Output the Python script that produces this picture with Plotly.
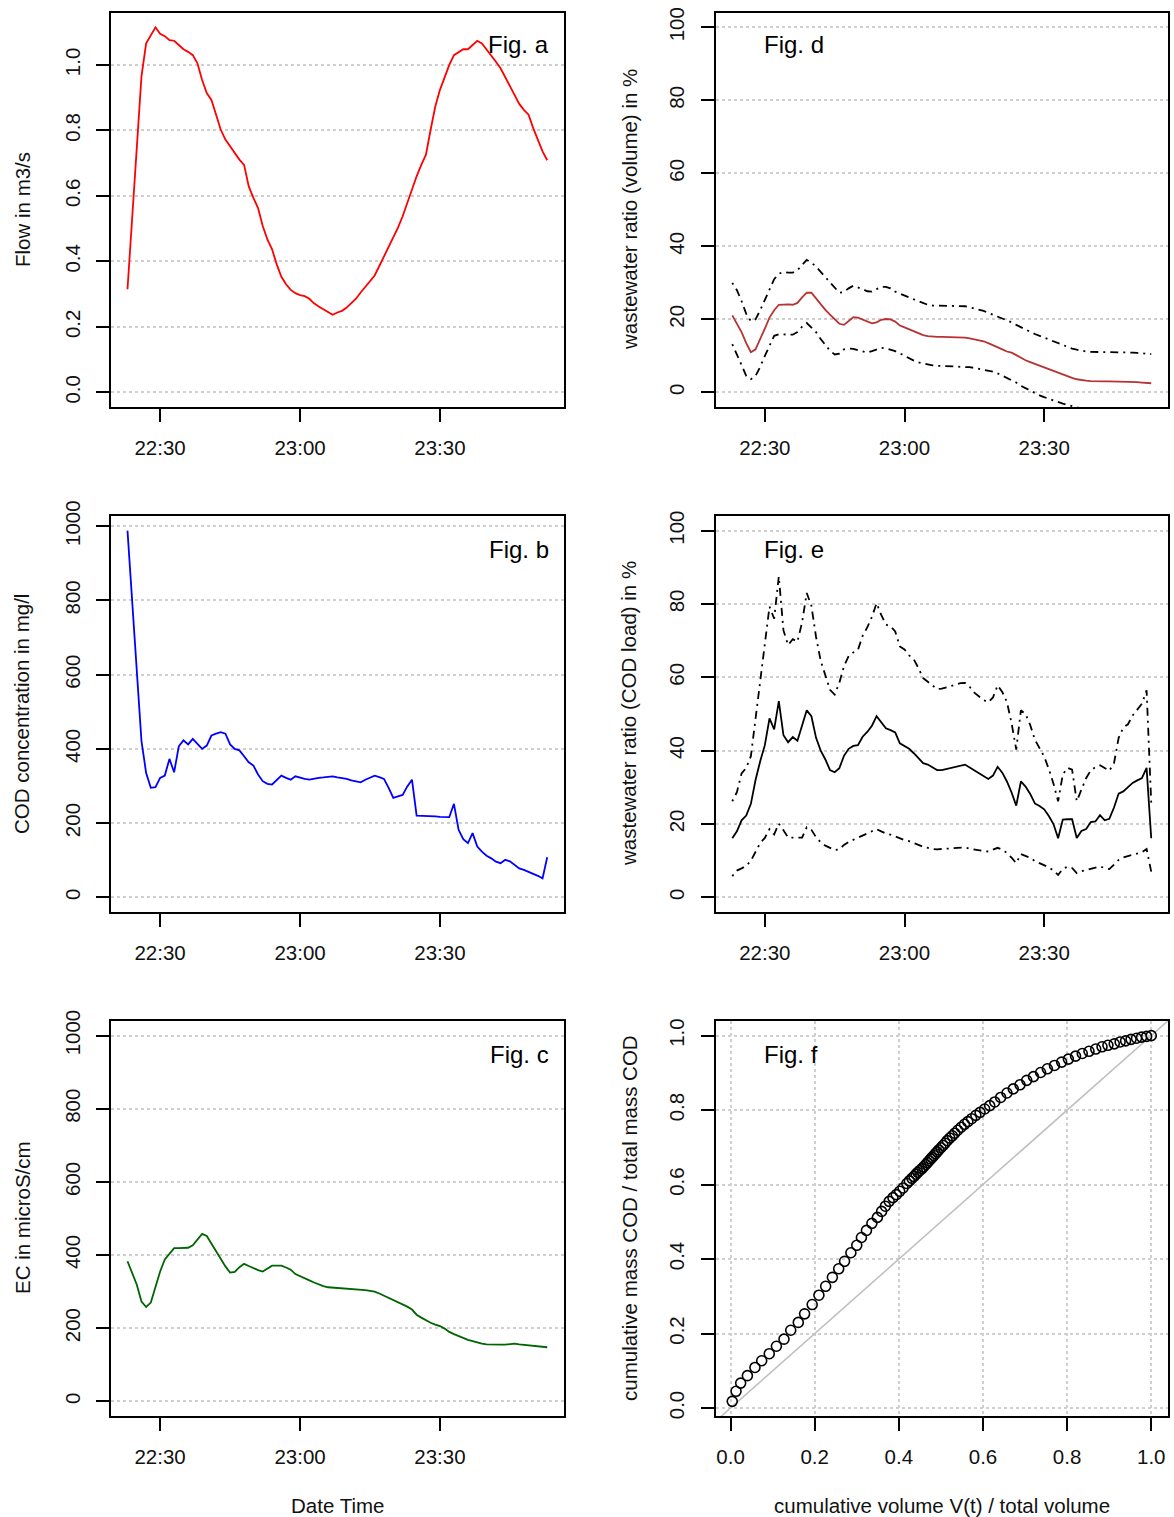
import plotly.graph_objects as go
import pandas as pd

# ---------------- data ----------------
times = pd.date_range("2020-01-01 22:23:00", periods=91, freq="min")

flow = [0.315, 0.54, 0.76, 0.965, 1.066, 1.09, 1.115, 1.095, 1.088, 1.076,
        1.074, 1.061, 1.048, 1.04, 1.03, 1.005, 0.954, 0.914, 0.893, 0.848,
        0.802, 0.772, 0.751, 0.729, 0.711, 0.695, 0.629, 0.594, 0.563, 0.508,
        0.467, 0.437, 0.391, 0.353, 0.330, 0.313, 0.303, 0.297, 0.294, 0.286,
        0.272, 0.262, 0.254, 0.244, 0.237, 0.244, 0.249, 0.259, 0.274, 0.286,
        0.305, 0.323, 0.340, 0.357, 0.386, 0.416, 0.447, 0.472, 0.503, 0.538,
        0.579, 0.619, 0.660, 0.695, 0.726, 0.802, 0.873, 0.924, 0.965, 1.0,
        1.03, 1.04, 1.048, 1.048, 1.061, 1.074, 1.066, 1.048, 1.03, 1.01,
        0.99, 0.962, 0.939, 0.909, 0.881, 0.863, 0.848, 0.807, 0.772, 0.736, 0.709]

cod = [988, 799, 610, 421, 335, 295, 297, 322, 328, 373,
       337, 407, 423, 412, 427, 412, 400, 409, 436, 441,
       445, 441, 412, 400, 396, 380, 364, 355, 331, 313,
       306, 304, 317, 328, 322, 317, 326, 322, 319, 317,
       320, 322, 323, 324, 326, 323, 322, 319, 315, 312,
       310, 317, 322, 328, 324, 319, 295, 268, 272, 276,
       299, 317, 220, 220, 219, 218, 218, 217, 216, 216,
       252, 182, 157, 146, 173, 137, 123, 112, 105, 96,
       92, 101, 97, 87, 78, 74, 69, 63, 58, 51, 108]

ec = [383, 352, 319, 273, 258, 270, 311, 355, 388, 404,
      419, 419, 419, 420, 427, 444, 458, 452, 431, 408,
      387, 369, 352, 354, 367, 376, 370, 364, 359, 355,
      363, 371, 371, 371, 366, 360, 348, 343, 337, 331,
      325, 319, 315, 312, 311, 311, 310, 310, 309, 307,
      306, 304, 302, 300, 295, 289, 283, 279, 272, 266,
      259, 251, 237, 229, 221, 215, 210, 206, 199, 190,
      184, 178, 172, 168, 165, 161, 158, 156, 155, 155,
      155, 155, 156, 158, 156, 155, 153, 151, 150, 149, 148]

vol_mid = [21.1, 18.8, 16.5, 13.5, 11.0, 11.8, 14.5, 17.5, 20.5, 22.5,
           24.0, 24.1, 24.1, 24.0, 24.5, 26.0, 27.3, 27.3, 25.7, 24.0,
           22.6, 21.3, 20.0, 18.8, 18.5, 19.5, 20.6, 20.5, 19.9, 19.4,
           18.9, 19.2, 19.9, 20.1, 20.0, 19.4, 18.3, 17.8, 17.3, 16.8,
           16.1, 15.7, 15.4, 15.2, 15.2, 15.2, 15.2, 15.2, 15.1, 15.0,
           15.0, 14.8, 14.6, 14.4, 14.0, 13.5, 13.0, 12.4, 11.8, 11.2,
           10.9, 10.2, 9.4, 8.8, 8.3, 7.8, 7.4, 7.0, 6.4, 5.9,
           5.4, 4.9, 4.5, 4.0, 3.6, 3.3, 3.2, 3.1, 3.0, 3.0,
           3.0, 3.0, 3.0, 3.0, 2.9, 2.9, 2.9, 2.8, 2.7, 2.5, 2.5]

vol_up = [30.0, 28.0, 25.0, 21.5, 19.5, 20.0, 22.5, 25.5, 28.5, 31.0,
          32.5, 33.0, 32.8, 32.8, 33.5, 35.0, 36.3, 35.5, 34.5, 33.0,
          31.5, 30.0, 28.5, 27.3, 27.5, 28.5, 29.2, 28.8, 28.3, 27.7,
          27.6, 28.3, 28.9, 28.9, 28.5, 27.6, 27.0, 26.5, 26.0, 25.5,
          25.0, 24.3, 24.0, 23.8, 23.8, 23.8, 23.8, 23.8, 23.7, 23.6,
          23.6, 23.3, 23.0, 22.7, 22.3, 21.8, 21.3, 20.8, 20.3, 19.8,
          19.2, 18.5, 17.8, 17.2, 16.6, 16.0, 15.5, 15.0, 14.5, 14.0,
          13.4, 12.9, 12.4, 12.0, 11.7, 11.4, 11.2, 11.1, 11.1, 11.1,
          11.1, 11.1, 11.1, 11.1, 11.0, 11.0, 10.9, 10.8, 10.7, 10.6, 10.5]

vol_lo = [13.2, 10.5, 7.5, 4.5, 3.6, 4.5, 7.0, 10.0, 13.0, 15.5,
          15.9, 15.9, 15.7, 15.8, 16.5, 18.0, 19.0, 17.8, 16.5, 14.6,
          13.0, 11.4, 10.4, 10.6, 11.8, 12.0, 11.9, 11.6, 11.2, 10.9,
          11.3, 11.8, 12.2, 12.1, 11.8, 11.3, 10.7, 10.0, 9.4, 8.7,
          8.2, 7.9, 7.6, 7.4, 7.3, 7.3, 7.3, 7.3, 7.1, 7.0,
          7.0, 6.9, 6.7, 6.5, 6.3, 6.0, 5.7, 5.2, 4.6, 4.1,
          3.5, 2.7, 1.8, 1.1, 0.4, -0.3, -0.8, -1.3, -1.8, -2.2,
          -2.7, -3.1, -3.4, -3.8, -4.2, -4.5, -4.8, -5.0, -5.1, -5.2,
          -5.2, -5.2, -5.3, -5.3, -5.3, -5.4, -5.4, -5.4, -5.5, -5.5, -5.5]

load_mid = [16.1, 18.0, 21.0, 22.3, 25.5, 32.0, 37.1, 41.5, 48.8, 45.8,
            53.5, 44.2, 42.3, 43.7, 42.7, 46.7, 51.0, 49.4, 43.5, 40.0,
            37.6, 34.7, 34.1, 35.2, 38.6, 40.5, 41.3, 41.5, 43.8, 45.1,
            46.8, 49.4, 47.8, 46.1, 45.6, 45.0, 42.0, 41.2, 40.5, 39.3,
            37.8, 36.6, 36.2, 35.5, 34.7, 34.7, 35.0, 35.2, 35.5, 35.8,
            36.2, 35.4, 34.6, 33.7, 32.9, 32.3, 33.2, 35.6, 34.0, 31.6,
            28.6, 25.0, 31.6, 30.2, 28.2, 25.6, 24.9, 24.0, 22.2, 20.0,
            16.1, 21.2, 21.3, 21.3, 16.2, 18.1, 18.6, 20.5, 20.7, 22.4,
            21.0, 21.4, 24.5, 28.3, 28.9, 30.1, 31.2, 31.9, 32.5, 35.3, 16.1]

load_up = [26.2, 28.7, 33.8, 35.3, 38.5, 49.0, 58.8, 69.0, 79.3, 76.0,
           87.5, 72.8, 68.8, 70.4, 69.7, 75.0, 83.0, 79.5, 71.0, 64.5,
           60.5, 56.6, 55.3, 58.5, 63.0, 65.8, 66.8, 67.5, 71.3, 73.6,
           76.5, 80.2, 77.0, 74.4, 73.9, 72.5, 68.4, 67.6, 66.0, 64.9,
           62.5, 59.8, 58.8, 57.7, 56.8, 56.9, 57.3, 57.8, 58.2, 58.4,
           58.5, 57.4, 55.8, 54.8, 53.8, 53.2, 54.5, 57.8, 56.0, 53.3,
           47.5, 40.3, 51.0, 50.0, 47.0, 43.0, 40.5, 38.4, 35.0, 31.0,
           26.2, 33.5, 35.3, 34.8, 26.2, 29.4, 32.5, 34.6, 35.5, 36.0,
           35.2, 34.5, 36.6, 43.5, 46.3, 47.2, 49.6, 51.1, 52.8, 56.5, 25.7]

load_lo = [5.8, 7.3, 7.9, 8.6, 10.0, 12.5, 14.8, 16.2, 18.6, 17.2,
           20.1, 18.3, 16.3, 16.3, 16.4, 16.3, 19.1, 18.4, 16.4, 15.0,
           14.1, 13.5, 12.9, 13.1, 14.3, 15.1, 15.7, 16.3, 16.9, 17.4,
           17.9, 18.6, 18.0, 17.4, 17.1, 16.6, 15.9, 15.6, 15.3, 14.9,
           14.3, 13.8, 13.4, 13.2, 13.1, 13.2, 13.3, 13.4, 13.5, 13.6,
           13.6, 13.3, 13.0, 12.8, 12.6, 12.5, 12.9, 13.5, 13.0, 12.1,
           10.8, 9.3, 11.8, 11.3, 10.8, 9.9, 9.3, 8.7, 8.2, 7.3,
           6.1, 7.8, 8.3, 8.0, 6.6, 7.1, 7.4, 7.8, 8.2, 8.4,
           8.0, 7.7, 8.9, 10.2, 10.9, 11.3, 11.6, 12.0, 12.3, 13.2, 7.0]

cum_vol = [0.004, 0.013, 0.024, 0.040, 0.058, 0.074, 0.092, 0.109, 0.127, 0.143,
           0.161, 0.176, 0.194, 0.210, 0.226, 0.242, 0.257, 0.271, 0.286, 0.300,
           0.311, 0.323, 0.336, 0.349, 0.359, 0.368, 0.377, 0.386, 0.394, 0.402,
           0.410, 0.419, 0.425, 0.431, 0.436, 0.441, 0.445, 0.450, 0.455, 0.459,
           0.464, 0.468, 0.472, 0.476, 0.479, 0.483, 0.487, 0.491, 0.495, 0.500,
           0.505, 0.510, 0.515, 0.521, 0.527, 0.533, 0.540, 0.548, 0.556, 0.564,
           0.573, 0.583, 0.593, 0.604, 0.616, 0.628, 0.642, 0.657, 0.672, 0.688,
           0.704, 0.720, 0.737, 0.753, 0.770, 0.787, 0.803, 0.820, 0.836, 0.852,
           0.868, 0.883, 0.897, 0.912, 0.926, 0.939, 0.952, 0.965, 0.977, 0.989, 1.000]

cum_mass = [0.018, 0.045, 0.067, 0.087, 0.109, 0.127, 0.146, 0.166, 0.185, 0.209,
            0.230, 0.253, 0.278, 0.303, 0.327, 0.351, 0.374, 0.394, 0.417, 0.437,
            0.458, 0.477, 0.496, 0.512, 0.528, 0.542, 0.555, 0.565, 0.573, 0.582,
            0.591, 0.603, 0.610, 0.617, 0.622, 0.628, 0.633, 0.638, 0.643, 0.648,
            0.654, 0.659, 0.664, 0.669, 0.673, 0.678, 0.683, 0.688, 0.693, 0.699,
            0.705, 0.711, 0.718, 0.725, 0.731, 0.738, 0.746, 0.754, 0.762, 0.769,
            0.777, 0.786, 0.794, 0.803, 0.812, 0.822, 0.834, 0.846, 0.857, 0.868,
            0.880, 0.890, 0.901, 0.911, 0.920, 0.929, 0.937, 0.945, 0.952, 0.958,
            0.964, 0.970, 0.974, 0.978, 0.983, 0.986, 0.990, 0.993, 0.996, 0.998, 1.000]

diag_ref = [-0.1, 1.1]

time_tickvals = ["2020-01-01 22:30", "2020-01-01 23:00", "2020-01-01 23:30"]
time_ticktext = ["22:30", "23:00", "23:30"]
time_range = ["2020-01-01 22:19:24", "2020-01-01 23:56:36"]

ticks_unit = [0, 0.2, 0.4, 0.6, 0.8, 1.0]
ticks_unit_txt = ["0.0", "0.2", "0.4", "0.6", "0.8", "1.0"]
ticks_1000 = [0, 200, 400, 600, 800, 1000]
ticks_100 = [0, 20, 40, 60, 80, 100]

fig_labels = ["Fig. a", "Fig. b", "Fig. c", "Fig. d", "Fig. e", "Fig. f"]

# ---------------- layout geometry ----------------
W, H = 1174, 1517
FONT = "Liberation Sans, Arial, Helvetica, sans-serif"
TICKFS = 20.5
TITLEFS = 20.5


def fx(p):
    return p / W


def fy(p):
    return 1 - p / H


col_x = [(110.7, 564.0), (715.5, 1168.0)]
row_y = [(12.7, 407.0), (516.0, 912.0), (1021.0, 1416.0)]

fig = go.Figure()

DASHDOT = "2px,5px,8px,5px"
LW = 1.8

fig.add_trace(go.Scatter(x=times, y=flow, mode="lines", line=dict(color="#FF0000", width=LW),
                         xaxis="x", yaxis="y", showlegend=False))
fig.add_trace(go.Scatter(x=times, y=cod, mode="lines", line=dict(color="#0000FF", width=LW),
                         xaxis="x2", yaxis="y2", showlegend=False))
fig.add_trace(go.Scatter(x=times, y=ec, mode="lines", line=dict(color="#006400", width=LW),
                         xaxis="x3", yaxis="y3", showlegend=False))
for ser in (vol_up, vol_lo):
    fig.add_trace(go.Scatter(x=times, y=ser, mode="lines",
                             line=dict(color="black", width=LW, dash=DASHDOT),
                             xaxis="x4", yaxis="y4", showlegend=False))
fig.add_trace(go.Scatter(x=times, y=vol_mid, mode="lines", line=dict(color="#B83232", width=LW),
                         xaxis="x4", yaxis="y4", showlegend=False))
for ser in (load_up, load_lo):
    fig.add_trace(go.Scatter(x=times, y=ser, mode="lines",
                             line=dict(color="black", width=LW, dash=DASHDOT),
                             xaxis="x5", yaxis="y5", showlegend=False))
fig.add_trace(go.Scatter(x=times, y=load_mid, mode="lines", line=dict(color="black", width=LW),
                         xaxis="x5", yaxis="y5", showlegend=False))
fig.add_trace(go.Scatter(x=diag_ref, y=diag_ref, mode="lines", line=dict(color="#BEBEBE", width=1.5),
                         xaxis="x6", yaxis="y6", showlegend=False))
fig.add_trace(go.Scatter(x=cum_vol, y=cum_mass, mode="markers",
                         marker=dict(symbol="circle-open", size=10, color="black",
                                     line=dict(color="black", width=1.6)),
                         xaxis="x6", yaxis="y6", showlegend=False))

common = dict(showline=True, mirror=True, linecolor="black", linewidth=1.8,
              ticks="outside", ticklen=13, tickwidth=1.6, tickcolor="black",
              tickfont=dict(family=FONT, size=TICKFS, color="#111111"),
              zeroline=False, automargin=False)
grid = dict(showgrid=True, gridcolor="#CFCFCF", griddash="dot", gridwidth=1.5)

panels = [
    (0, 0, [-0.0446, 1.1596], ticks_unit, ticks_unit_txt),
    (0, 1, [-39.5, 1027.5], ticks_1000, [str(v) for v in ticks_1000]),
    (0, 2, [-40, 1040], ticks_1000, [str(v) for v in ticks_1000]),
    (1, 0, [-4, 104], ticks_100, [str(v) for v in ticks_100]),
    (1, 1, [-4, 104], ticks_100, [str(v) for v in ticks_100]),
    (1, 2, [-0.0213, 1.0393], ticks_unit, ticks_unit_txt),
]

layout = dict(template="none", width=W, height=H,
              margin=dict(l=0, r=0, t=0, b=0, pad=0, autoexpand=False),
              paper_bgcolor="white", plot_bgcolor="white", showlegend=False,
              font=dict(family=FONT, color="#111111"))

for i, (c, r, yr, ytv, ytt) in enumerate(panels):
    n = "" if i == 0 else str(i + 1)
    xd = [fx(col_x[c][0]), fx(col_x[c][1])]
    yd = [fy(row_y[r][1]), fy(row_y[r][0])]
    if i < 5:
        xa = dict(common, domain=xd, anchor="y" + n, type="date", range=time_range,
                  tickvals=time_tickvals, ticktext=time_ticktext, showgrid=False,
                  ticklabelstandoff=8)
    else:
        xa = dict(common, **grid, domain=xd, anchor="y" + n, range=[-0.0358, 1.0398],
                  tickvals=ticks_unit, ticktext=ticks_unit_txt, ticklabelstandoff=8)
    ya = dict(common, **grid, domain=yd, anchor="x" + n, range=yr,
              tickvals=ytv, ticktext=ytt, tickangle=-90, ticklabelstandoff=8)
    layout["xaxis" + n] = xa
    layout["yaxis" + n] = ya

fig.update_layout(**layout)

ann = []
label_pos = [
    (551, 45, "right"), (551, 549, "right"), (551, 1054, "right"),
    (762, 45, "left"), (762, 549, "left"), (762, 1054, "left"),
]
for txt, (px, py, anc) in zip(fig_labels, label_pos):
    ann.append(dict(text=txt, x=fx(px), y=fy(py), xref="paper", yref="paper",
                    xanchor=anc, yanchor="middle", showarrow=False,
                    font=dict(family=FONT, size=24, color="black")))

ytitles = [
    ("Flow in m3/s", 22, 210),
    ("COD concentration in mg/l", 22, 714),
    ("EC in microS/cm", 22, 1218),
    ("wastewater ratio (volume) in %", 629, 210),
    ("wastewater ratio (COD load) in %", 629, 714),
    ("cumulative mass COD / total mass COD", 629, 1218),
]
for txt, px, py in ytitles:
    ann.append(dict(text=txt, x=fx(px), y=fy(py), xref="paper", yref="paper",
                    xanchor="center", yanchor="middle", textangle=-90, showarrow=False,
                    font=dict(family=FONT, size=TITLEFS, color="#111111")))

xtitles = [("Date Time", 337, 1505), ("cumulative volume V(t) / total volume", 942, 1505)]
for txt, px, py in xtitles:
    ann.append(dict(text=txt, x=fx(px), y=fy(py), xref="paper", yref="paper",
                    xanchor="center", yanchor="middle", showarrow=False,
                    font=dict(family=FONT, size=TITLEFS, color="#111111")))

fig.update_layout(annotations=ann)

fig.write_html("out.html", config={"displayModeBar": False},
               post_script="document.body.style.margin='0';document.body.style.padding='0';"
                           "document.body.style.overflow='hidden';")
